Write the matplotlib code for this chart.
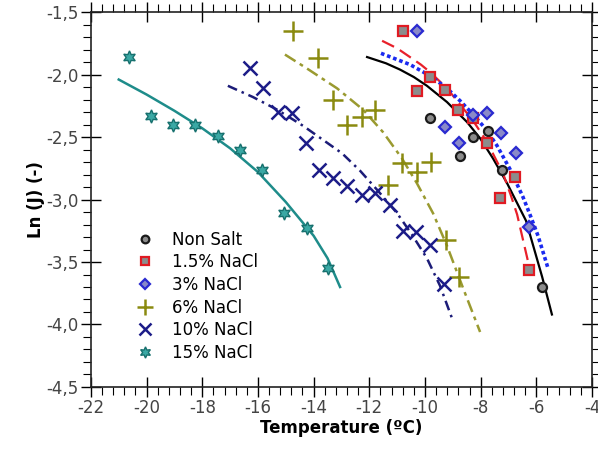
import matplotlib
matplotlib.use("Agg")
import matplotlib.pyplot as plt
from matplotlib.ticker import MultipleLocator, FuncFormatter

# measured points
ns_x = [-9.82, -8.74, -8.26, -7.72, -7.24, -5.81]
ns_y = [-2.35, -2.65, -2.50, -2.45, -2.76, -3.70]

n15_x = [-10.78, -9.82, -10.27, -9.28, -8.80, -8.29, -7.78, -6.77, -7.30, -6.25]
n15_y = [-1.65, -2.02, -2.13, -2.12, -2.28, -2.35, -2.55, -2.82, -2.99, -3.56]

n3_x = [-10.28, -9.28, -8.77, -8.29, -7.76, -7.28, -6.74, -6.26]
n3_y = [-1.65, -2.42, -2.55, -2.32, -2.31, -2.47, -2.63, -3.22]

n6_x = [-14.74, -13.83, -13.29, -12.81, -12.28, -11.80, -11.32, -10.84, -10.30, -9.80, -9.24, -8.77]
n6_y = [-1.65, -1.87, -2.20, -2.40, -2.34, -2.28, -2.88, -2.71, -2.78, -2.70, -3.32, -3.62]

n10_x = [-16.29, -15.81, -15.29, -14.79, -14.28, -13.80, -13.30, -12.79, -12.28, -11.80,
         -11.26, -10.78, -10.32, -9.82, -9.30]
n10_y = [-1.95, -2.11, -2.30, -2.31, -2.55, -2.76, -2.83, -2.89, -2.96, -2.95,
         -3.04, -3.25, -3.26, -3.36, -3.68]

n15b_x = [-20.63, -19.84, -19.04, -18.26, -17.43, -16.63, -15.87, -15.05, -14.25, -13.47]
n15b_y = [-1.86, -2.33, -2.40, -2.40, -2.49, -2.60, -2.76, -3.11, -3.23, -3.55]

# fitted curves
ns_fx = [-12.08, -11.40, -10.90, -10.40, -9.93, -9.21, -8.49, -8.02, -7.56, -7.05, -6.37, -5.79, -5.44]
ns_fy = [-1.86, -1.91, -1.96, -2.02, -2.09, -2.22, -2.38, -2.51, -2.67, -2.87, -3.17, -3.62, -3.92]

n15_fx = [-11.54, -11.00, -10.54, -10.15, -9.82, -9.21, -8.74, -8.27, -7.77, -7.20, -6.91, -6.69, -6.19]
n15_fy = [-1.73, -1.79, -1.86, -1.92, -1.98, -2.11, -2.24, -2.37, -2.54, -2.79, -2.97, -3.12, -3.60]

n3_fx = [-11.58, -10.54, -9.82, -9.21, -8.74, -8.27, -7.80, -7.41, -6.94, -6.48, -6.23, -5.94, -5.58]
n3_fy = [-1.83, -1.92, -2.01, -2.11, -2.21, -2.32, -2.44, -2.57, -2.76, -2.98, -3.12, -3.29, -3.55]

n6_fx = [-15.03, -14.25, -13.16, -12.23, -11.51, -10.83, -10.29, -9.71, -9.21, -8.63, -8.02]
n6_fy = [-1.84, -1.95, -2.11, -2.28, -2.46, -2.67, -2.87, -3.11, -3.37, -3.71, -4.06]

n10_fx = [-17.08, -16.18, -15.32, -14.38, -12.98, -12.33, -11.69, -11.00, -10.47, -9.93, -9.46, -9.03]
n10_fy = [-2.09, -2.18, -2.28, -2.41, -2.63, -2.77, -2.93, -3.11, -3.28, -3.47, -3.69, -3.95]

n15b_fx = [-21.0, -20.0, -19.0, -18.0, -17.0, -16.0, -15.0, -14.0, -13.5, -13.05]
n15b_fy = [-2.04, -2.16, -2.29, -2.43, -2.59, -2.78, -3.02, -3.29, -3.47, -3.70]

labels = ["Non Salt", "1.5% NaCl", "3% NaCl", "6% NaCl", "10% NaCl", "15% NaCl"]

fig = plt.figure(figsize=(5.98, 4.55), dpi=100)
ax = fig.add_axes([0.152, 0.1495, 0.838, 0.824])

# curves
ax.plot(ns_fx, ns_fy, color="black", lw=1.6)
ax.plot(n15_fx, n15_fy, color="#e8202a", lw=1.6, ls=(0, (6, 3)))
ax.plot(n3_fx, n3_fy, color="#1a2af0", lw=2.6, ls=(0, (1, 0.8)))
ax.plot(n6_fx, n6_fy, color="#9a9a30", lw=1.8, ls=(0, (5, 2, 1.5, 2)))
ax.plot(n10_fx, n10_fy, color="#1c1c78", lw=1.8, ls=(0, (4, 2, 1, 2)))
ax.plot(n15b_fx, n15b_fy, color="#1e8c8a", lw=1.8)

# points
ax.plot(ns_x, ns_y, ls="none", marker="o", ms=6.5, mfc="#8c8c8c", mec="#1a1a1a", mew=1.6, label=labels[0])
ax.plot(n15_x, n15_y, ls="none", marker="s", ms=7.5, mfc="#8c8c8c", mec="#e01a22", mew=1.6, label=labels[1])
ax.plot(n3_x, n3_y, ls="none", marker="D", ms=6.5, mfc="#8a8ac8", mec="#2a2ad0", mew=1.6, label=labels[2])
ax.plot(n6_x, n6_y, ls="none", marker="+", ms=14, mec="#8a8a10", mew=1.8, label=labels[3])
ax.plot(n10_x, n10_y, ls="none", marker="x", ms=10, mec="#1c1c88", mew=1.8, label=labels[4])
ax.plot(n15b_x, n15b_y, ls="none", marker=(6, 1, 0), ms=9.5, mfc="#3aa8a4", mec="#17706e", mew=1.0, label=labels[5])

ax.set_xlim(-22, -4)
ax.set_ylim(-4.5, -1.5)
ax.xaxis.set_major_locator(MultipleLocator(2))
ax.xaxis.set_minor_locator(MultipleLocator(0.4))
ax.yaxis.set_major_locator(MultipleLocator(0.5))
ax.yaxis.set_minor_locator(MultipleLocator(0.1))
ax.yaxis.set_major_formatter(FuncFormatter(lambda v, p: f"{v:.1f}".replace(".", ",")))
ax.xaxis.set_major_formatter(FuncFormatter(lambda v, p: f"{v:.0f}"))

ax.tick_params(which="major", direction="inout", length=14, width=1.0,
               top=True, right=True, labelsize=12, labelcolor="#444444", pad=2)
ax.tick_params(which="minor", direction="out", length=6, width=0.8, top=True, right=True)
for s in ax.spines.values():
    s.set_linewidth(1.2)
    s.set_color("#222222")

ax.set_xlabel("Temperature (ºC)", fontsize=12, fontweight="bold", labelpad=1)
ax.set_ylabel("Ln (J) (-)", fontsize=12, fontweight="bold", labelpad=1)

ax.legend(loc="upper left", bbox_to_anchor=(0.075, 0.435), frameon=False, fontsize=12,
          handletextpad=1.0, labelspacing=0.28, borderaxespad=0, handlelength=1.2,
          markerscale=0.85)

fig.savefig("out.png", dpi=100)
